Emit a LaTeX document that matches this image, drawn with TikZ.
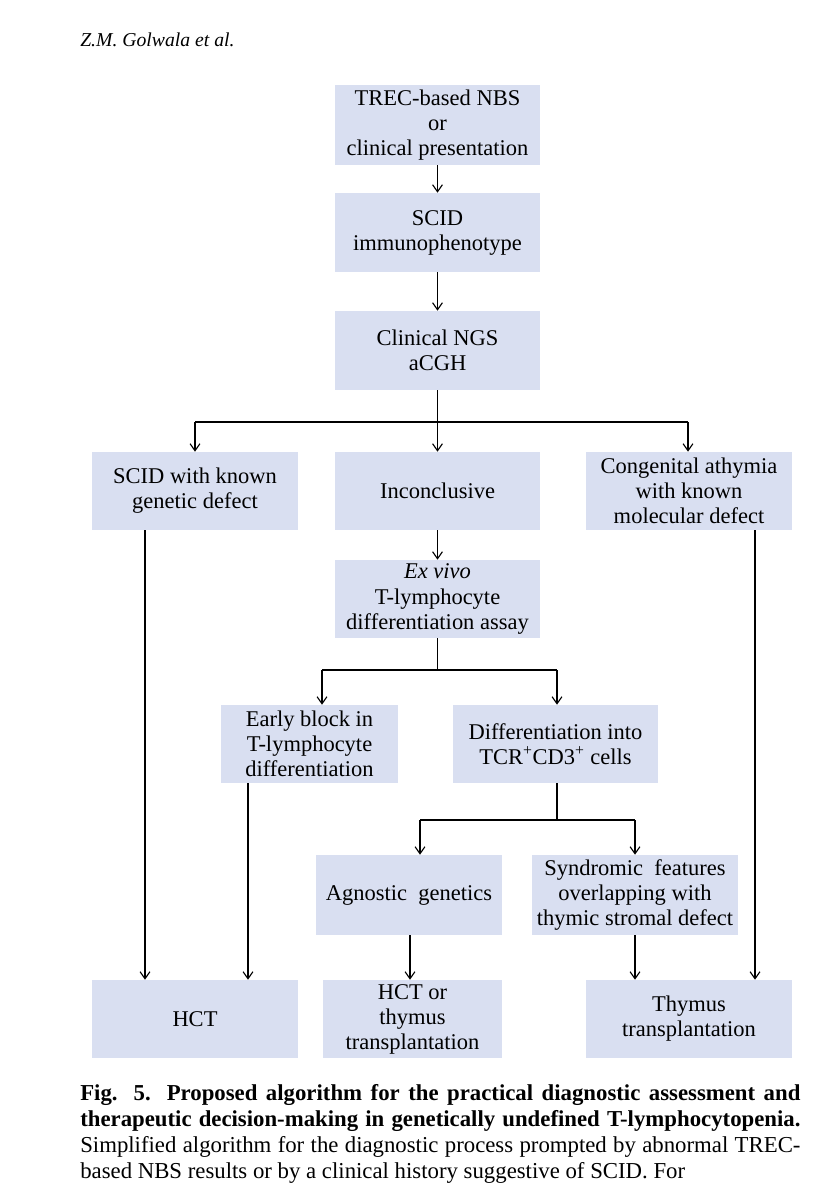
\documentclass[tikz,border=0pt]{standalone}
\usepackage{fontspec}
\setmainfont{Liberation Serif}
\usetikzlibrary{arrows.meta}
\definecolor{boxfill}{HTML}{D9DFF1}
\begin{document}
\begin{tikzpicture}[x=0.025cm,y=-0.025cm,
  box/.style={fill=boxfill,draw=none,inner sep=2pt,align=center,
    font=\fontsize{16}{17.8}\selectfont},
  arr/.style={-{Straight Barb[length=5pt,width=7pt]},line width=0.8pt},
  ln/.style={line width=0.8pt}]
\useasboundingbox (0,0) rectangle (833,1200);
\node[anchor=west,inner sep=0pt,font=\fontsize{14}{16}\selectfont\itshape] (hdr) at (80,40) {Z.M. Golwala et al.};
% boxes: corners in px
\newcommand{\bx}[6]{\node[box,minimum width={(#4-#2)*0.025cm},minimum height={(#5-#3)*0.025cm}] (#1) at ({(#2+#4)/2},{(#3+#5)/2}) {#6};}
\bx{trec}{335}{85}{540}{165}{TREC-based NBS\\or\\clinical presentation}
\bx{scid}{335}{193}{540}{272}{SCID\\immunophenotype}
\bx{ngs}{335}{311}{540}{390}{Clinical NGS\\aCGH}
\bx{known}{92}{452}{298}{530}{SCID with known\\genetic defect}
\bx{incl}{335}{452}{540}{530}{Inconclusive}
\bx{athy}{586}{452}{792}{530}{Congenital athymia\\with known\\molecular defect}
\bx{exv}{335}{560}{540}{638}{\textit{Ex vivo}\\T-lymphocyte\\differentiation assay}
\bx{early}{221}{705}{398}{783}{Early block in\\T-lymphocyte\\differentiation}
\bx{diff}{453}{705}{658}{783}{Differentiation into\\TCR\textsuperscript{+}CD3\textsuperscript{+} cells}
\bx{agn}{316}{855}{502}{935}{Agnostic\ \ genetics}
\bx{synd}{532}{855}{738}{935}{Syndromic\ \ features\\overlapping with\\thymic stromal defect}
\bx{hct}{92}{980}{298}{1058}{HCT}
\bx{hctthy}{323}{980}{502}{1058}{HCT or\\thymus\\transplantation}
\bx{thy}{586}{980}{792}{1058}{Thymus\\transplantation}
% connectors
\draw[arr] (trec) -- (scid);
\draw[arr] (scid) -- (ngs);
\coordinate (j1) at (437.5,422);
\draw[ln] (ngs) -- (j1);
\draw[ln] (195,422) -- (688,422);
\draw[arr] (195,422) -- (known.north);
\draw[arr] (j1) -- (incl);
\draw[arr] (688,422) -- (athy.north -| 688,0);
\draw[arr] (incl) -- (exv);
\coordinate (j2) at (437.5,670);
\draw[ln] (exv) -- (j2);
\draw[ln] (322,670) -- (557,670);
\draw[arr] (322,670) -- (early.north -| 322,0);
\draw[arr] (557,670) -- (diff.north -| 557,0);
\coordinate (j3) at (557,820);
\draw[ln] (diff.south -| j3) -- (j3);
\draw[ln] (420,820) -- (635,820);
\draw[arr] (420,820) -- (agn.north -| 420,0);
\draw[arr] (635,820) -- (synd.north -| 635,0);
\draw[arr] (known.south -| 145,0) -- (hct.north -| 145,0);
\draw[arr] (early.south -| 248,0) -- (hct.north -| 248,0);
\draw[arr] (agn.south -| 410,0) -- (hctthy.north -| 410,0);
\draw[arr] (synd.south -| 635,0) -- (thy.north -| 635,0);
\draw[arr] (athy.south -| 755,0) -- (thy.north -| 755,0);
% caption
\node[anchor=north west,text width=18cm,align=justify,inner sep=0pt,
  font=\fontsize{16.2}{18.5}\selectfont] (cap) at (80,1084)
{\textbf{Fig. 5. Proposed algorithm for the practical diagnostic assessment and therapeutic decision-making in genetically undefined T-lymphocytope\-nia.} Simplified algorithm for the diagnostic process prompted by abnormal TREC-based NBS results or by a clinical history suggestive of SCID.\ For};
\end{tikzpicture}
\end{document}
